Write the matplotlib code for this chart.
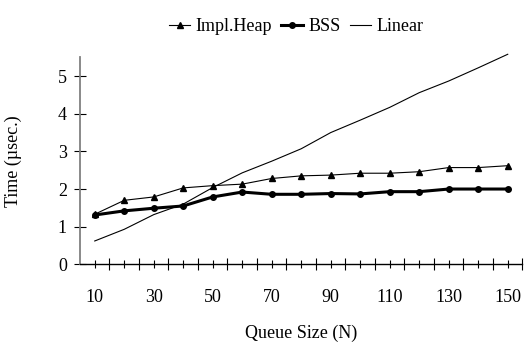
import matplotlib.pyplot as plt
import numpy as np
from matplotlib.ticker import FixedLocator, NullFormatter

plt.rcParams["font.family"] = ["Liberation Serif", "DejaVu Serif"]

# Queue sizes and measured times (usec)
queue_size = [10, 20, 30, 40, 50, 60, 70, 80, 90, 100, 110, 120, 130, 140, 150]
impl_heap = [1.33, 1.70, 1.79, 2.03, 2.09, 2.13, 2.28, 2.35, 2.37, 2.42, 2.42, 2.46, 2.57, 2.57, 2.62]
bss = [1.31, 1.42, 1.49, 1.55, 1.79, 1.92, 1.86, 1.86, 1.88, 1.87, 1.93, 1.93, 2.00, 2.00, 2.00]
linear = [0.62, 0.93, 1.32, 1.60, 2.04, 2.43, 2.74, 3.07, 3.50, 3.83, 4.17, 4.56, 4.87, 5.22, 5.58]

x_labels = [str(q) if i % 2 == 0 else "" for i, q in enumerate(queue_size)]

fig = plt.figure(figsize=(5.29, 3.43), dpi=100)
ax = fig.add_axes([0.1512, 0.2294, 0.8365, 0.6036])

ax.plot(queue_size, impl_heap, color="black", lw=0.8, marker="^", ms=4.5,
        label="Impl.Heap")
ax.plot(queue_size, bss, color="black", lw=2.2, marker="o", ms=4,
        label="BSS")
ax.plot(queue_size, linear, color="black", lw=0.8, label="Linear", clip_on=False)

ax.set_xlim(5, 155)
ax.set_ylim(0, 5.5)

# category centres carry the labels, boundaries get the longer ticks
ax.set_xticks(queue_size)
ax.set_xticklabels(x_labels, fontsize=13)
ax.xaxis.set_minor_locator(FixedLocator(np.arange(15, 160, 10)))
ax.xaxis.set_minor_formatter(NullFormatter())
ax.tick_params(axis="x", which="major", direction="inout", length=6, width=0.8, pad=15)
ax.tick_params(axis="x", which="minor", direction="inout", length=9, width=0.8)

ax.set_yticks([0, 1, 2, 3, 4, 5])
ax.tick_params(axis="y", direction="inout", length=9, width=0.8, labelsize=13, pad=5)

for side in ["top", "right"]:
    ax.spines[side].set_visible(False)
ax.spines["left"].set_color("#808080")
ax.spines["left"].set_linewidth(1.3)
ax.spines["bottom"].set_linewidth(1.0)

ax.set_xlabel("Queue Size (N)", fontsize=13)
ax.xaxis.set_label_coords(0.5, -0.29)
ax.set_ylabel("Time (µsec.)", fontsize=13)
ax.yaxis.set_label_coords(-0.13, 0.5)

fig.legend(loc="upper center", bbox_to_anchor=(0.56, 0.995), ncol=3, frameon=False,
           fontsize=13, handlelength=1.2, handletextpad=0.3, columnspacing=0.5)

fig.savefig("out.png", dpi=100)
